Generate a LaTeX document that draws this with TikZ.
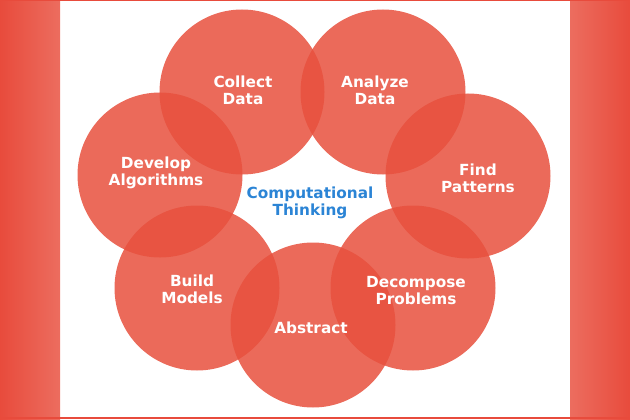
\documentclass[tikz,border=0pt]{standalone}
\usepackage{fontspec}
\setmainfont{DejaVu Sans}
\usepackage{tikz}
\usetikzlibrary{positioning}

\definecolor{bandred}{HTML}{E84B3C}
\definecolor{bandlight}{HTML}{EC6D5F}
\definecolor{bubblered}{HTML}{E7503D}
\definecolor{ctblue}{HTML}{2B84D5}

\tikzset{
  bubble/.style={circle, fill=bubblered, fill opacity=0.85, minimum size=165pt, inner sep=0pt},
  bubbletext/.style={text=white, align=center, font=\fontsize{15.3}{17}\selectfont\bfseries},
  hubtext/.style={text=ctblue, align=center, font=\fontsize{15.3}{17}\selectfont\bfseries}
}

\begin{document}
\begin{tikzpicture}[x=1pt, y=-1pt]
        \useasboundingbox (0,0) rectangle (630,420);
        % side bands and frame
        \shade[left color=bandred, right color=bandlight] (0,0) rectangle (60,420);
        \shade[left color=bandlight, right color=bandred] (570,0) rectangle (630,420);
        \fill[bandred] (0,0) rectangle (630,1.5);
        \fill[bandred] (0,417) rectangle (630,419);
        % the seven steps
        \node[bubble] (collect) at (242,92) {};
        \node[bubble] (analyze) at (383,92) {};
        \node[bubble] (find) at (468,176) {};
        \node[bubble] (decompose) at (413,288) {};
        \node[bubble] (abstract) at (313,325) {};
        \node[bubble] (build) at (197,288) {};
        \node[bubble] (develop) at (160,175) {};
        \node[bubbletext] (collectlbl) at (243,90.5) {Collect\\Data};
        \node[bubbletext] (analyzelbl) at (375,90.5) {Analyze\\Data};
        \node[bubbletext] (findlbl) at (478,178) {Find\\Patterns};
        \node[bubbletext] (decomposelbl) at (416,291) {Decompose\\Problems};
        \node[bubbletext] (abstractlbl) at (311,328) {Abstract};
        \node[bubbletext] (buildlbl) at (192,289) {Build\\Models};
        \node[bubbletext] (developlbl) at (156,173) {Develop\\Algorithms};
        \node[hubtext] (hub) at (310,203) {Computational\\Thinking};
    \end{tikzpicture}
\end{document}
